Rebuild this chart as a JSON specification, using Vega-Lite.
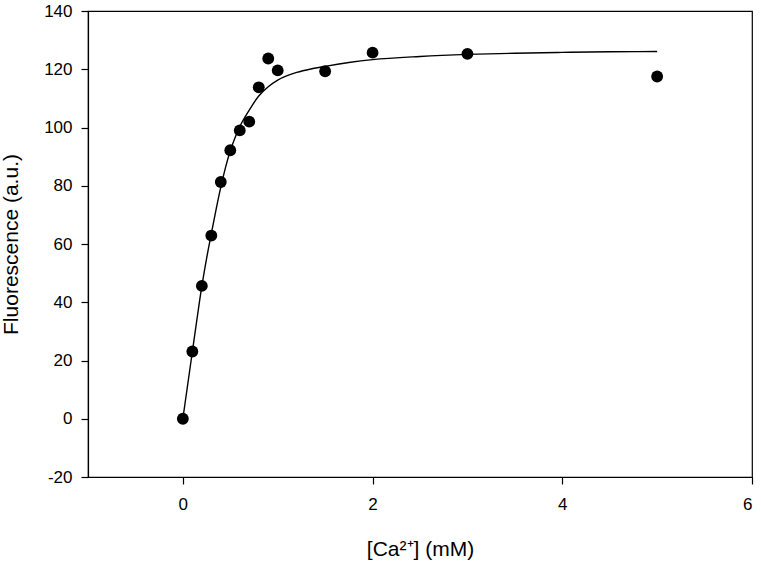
{
  "$schema": "https://vega.github.io/schema/vega-lite/v6.json",
  "width": 664,
  "height": 466,
  "autosize": "none",
  "padding": {"left": 88, "top": 11, "right": 9, "bottom": 86},
  "background": "white",
  "config": {
    "view": {"stroke": "black", "strokeWidth": 1.2},
    "font": "Liberation Sans",
    "axis": {
      "grid": false,
      "domainColor": "black",
      "domainWidth": 1.2,
      "tickColor": "black",
      "tickWidth": 1.2,
      "tickSize": 7,
      "labelColor": "black",
      "labelFont": "Liberation Sans",
      "labelFontSize": 17,
      "labelExpr": "'' + datum.value",
      "titleColor": "black",
      "titleFont": "Liberation Sans",
      "titleFontSize": 21,
      "titleFontWeight": "normal"
    }
  },
  "datasets": {
    "points": [
      {"ca": 0, "f": 0},
      {"ca": 0.1, "f": 23.1},
      {"ca": 0.2, "f": 45.6},
      {"ca": 0.3, "f": 62.9},
      {"ca": 0.4, "f": 81.3},
      {"ca": 0.5, "f": 92.2},
      {"ca": 0.6, "f": 99},
      {"ca": 0.7, "f": 102},
      {"ca": 0.8, "f": 113.8},
      {"ca": 0.9, "f": 123.7},
      {"ca": 1.0, "f": 119.6},
      {"ca": 1.5, "f": 119.3},
      {"ca": 2.0, "f": 125.7},
      {"ca": 3.0, "f": 125.3},
      {"ca": 5.0, "f": 117.5}
    ],
    "fit": [
      {"ca": 0, "f": 0},
      {"ca": 0.05, "f": 11.5},
      {"ca": 0.1, "f": 23},
      {"ca": 0.15, "f": 34.5},
      {"ca": 0.2, "f": 45.5},
      {"ca": 0.25, "f": 55},
      {"ca": 0.3, "f": 63.5},
      {"ca": 0.35, "f": 71.8},
      {"ca": 0.4, "f": 79.5},
      {"ca": 0.45, "f": 86.3},
      {"ca": 0.5, "f": 92},
      {"ca": 0.55, "f": 96.5},
      {"ca": 0.6, "f": 100.3},
      {"ca": 0.7, "f": 106},
      {"ca": 0.8, "f": 110.8},
      {"ca": 0.9, "f": 114},
      {"ca": 1.0, "f": 116.3},
      {"ca": 1.1, "f": 117.8},
      {"ca": 1.2, "f": 118.9},
      {"ca": 1.35, "f": 120.1},
      {"ca": 1.5, "f": 121},
      {"ca": 1.75, "f": 122.3},
      {"ca": 2.0, "f": 123.3},
      {"ca": 2.5, "f": 124.4},
      {"ca": 3.0, "f": 125.1},
      {"ca": 3.5, "f": 125.5},
      {"ca": 4.0, "f": 125.8},
      {"ca": 4.5, "f": 126},
      {"ca": 5.0, "f": 126.1}
    ]
  },
  "layer": [
    {
      "data": {"name": "fit"},
      "mark": {"type": "line", "color": "black", "strokeWidth": 1.4, "interpolate": "monotone"},
      "encoding": {
        "x": {
          "field": "ca", "type": "quantitative",
          "scale": {"domain": [-1, 6], "nice": false, "zero": false},
          "axis": {
            "values": [0, 2, 4, 6],
            "title": "[Ca²⁺] (mM)",
            "labelPadding": 12,
            "titleX": 332, "titleY": 78, "titleBaseline": "alphabetic", "titleAlign": "center"
          }
        },
        "y": {
          "field": "f", "type": "quantitative",
          "scale": {"domain": [-20, 140], "nice": false, "zero": false},
          "axis": {
            "values": [-20, 0, 20, 40, 60, 80, 100, 120, 140],
            "title": "Fluorescence (a.u.)",
            "labelPadding": 9,
            "titleAngle": -90,
            "titleX": -71, "titleY": 233, "titleBaseline": "alphabetic", "titleAlign": "center"
          }
        }
      }
    },
    {
      "data": {"name": "points"},
      "mark": {"type": "point", "filled": true, "shape": "circle", "color": "black", "opacity": 1, "size": 140},
      "encoding": {
        "x": {"field": "ca", "type": "quantitative"},
        "y": {"field": "f", "type": "quantitative"}
      }
    }
  ]
}
